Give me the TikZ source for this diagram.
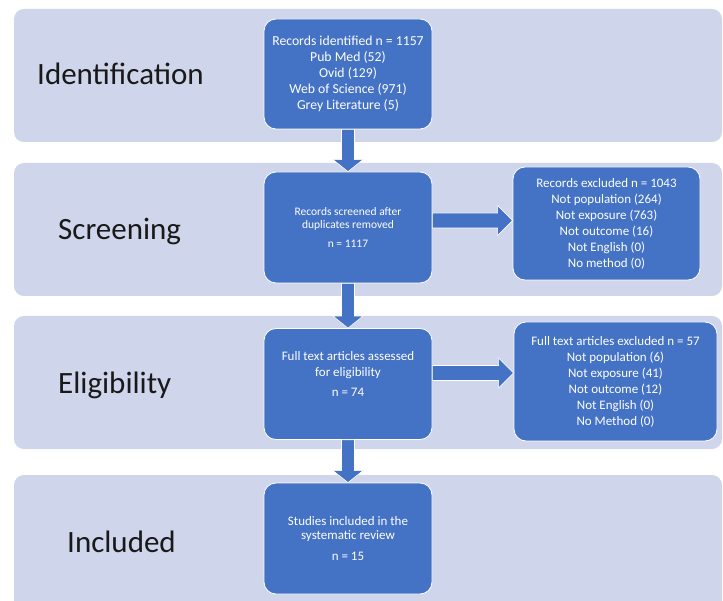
\documentclass[tikz,border=0pt]{standalone}
\usepackage{fontspec}
\setmainfont{Carlito}
\usetikzlibrary{calc}
\definecolor{bandfill}{HTML}{CFD5EA}
\definecolor{boxblue}{HTML}{4472C4}
\newcommand{\vblockarrow}[2]{%
  \fill[boxblue, draw=white, line width=0.6pt]
    ($(#1.south)+(-6.5,0)$) -- ($(#2.north)+(-6.5,-12)$) -- ($(#2.north)+(-15,-12)$)
    -- (#2.north) -- ($(#2.north)+(15,-12)$) -- ($(#2.north)+(6.5,-12)$)
    -- ($(#1.south)+(6.5,0)$) -- cycle;}
\newcommand{\hblockarrow}[3]{%
  \coordinate (#1-#2-s) at ($(#1.east)+(0,#3)$);
  \coordinate (#1-#2-t) at (#2.west |- #1-#2-s);
  \fill[boxblue, draw=white, line width=0.6pt]
    ($(#1-#2-s)+(0,-7.5)$) -- ($(#1-#2-t)+(-15,-7.5)$) -- ($(#1-#2-t)+(-15,-15)$)
    -- (#1-#2-t) -- ($(#1-#2-t)+(-15,15)$) -- ($(#1-#2-t)+(-15,7.5)$)
    -- ($(#1-#2-s)+(0,7.5)$) -- cycle;}
\begin{document}
\begin{tikzpicture}[x=1pt,y=-1pt,
  band/.style={fill=bandfill, rounded corners=10pt},
  stagelabel/.style={anchor=base west, inner sep=0pt, font=\fontsize{31}{37}\selectfont, text=black!90},
  bluebox/.style={fill=boxblue, draw=white, line width=0.8pt, rounded corners=12pt, text=white, align=center, inner sep=2pt, font=\fontsize{13}{16}\selectfont}]
\useasboundingbox (0,0) rectangle (723,601);
\fill[white] (0,0) rectangle (723,601);
\begin{scope}
  \clip (0,0) rectangle (723,601);
  \path[band] (14,9) rectangle (722,142);
  \path[band] (14,163) rectangle (722,296);
  \path[band] (14,316) rectangle (722,449);
  \path[band] (14,475) rectangle (722,620);
\end{scope}
\node[stagelabel] (lid) at (37,85) {Identification};
\node[stagelabel] (lsc) at (58,240) {Screening};
\node[stagelabel] (lel) at (58,394) {Eligibility};
\node[stagelabel] (lin) at (67,552) {Included};

\node[bluebox, minimum width=168pt, minimum height=110pt, font=\fontsize{13.7}{16}\selectfont] (id) at (348,74)
  {Records identified n = 1157\\Pub Med (52)\\Ovid (129)\\Web of Science (971)\\Grey Literature (5)};
\node[bluebox, minimum width=168pt, minimum height=111pt, font=\fontsize{11.5}{13}\selectfont] (sc) at (348,227.5)
  {Records screened after\\duplicates removed\\[6pt]n = 1117};
\node[bluebox, minimum width=168pt, minimum height=111pt] (el) at (348,384)
  {Full text articles assessed\\for eligibility\\[4pt]n = 74\\[4pt]~};
\node[bluebox, minimum width=168pt, minimum height=111pt, font=\fontsize{13}{14}\selectfont] (inc) at (348,538.5)
  {Studies included in the\\systematic review\\[7pt]n = 15};
\node[bluebox, minimum width=187pt, minimum height=113pt] (scx) at (606.5,223.5)
  {Records excluded n = 1043\\Not population (264)\\Not exposure (763)\\Not outcome (16)\\Not English (0)\\No method (0)};
\node[bluebox, minimum width=203pt, minimum height=119pt] (elx) at (615.5,381.5)
  {Full text articles excluded n = 57\\Not population (6)\\Not exposure (41)\\Not outcome (12)\\Not English (0)\\No Method (0)};

\vblockarrow{id}{sc}
\vblockarrow{sc}{el}
\vblockarrow{el}{inc}
\hblockarrow{sc}{scx}{-7}
\hblockarrow{el}{elx}{-11}
\end{tikzpicture}
\end{document}
